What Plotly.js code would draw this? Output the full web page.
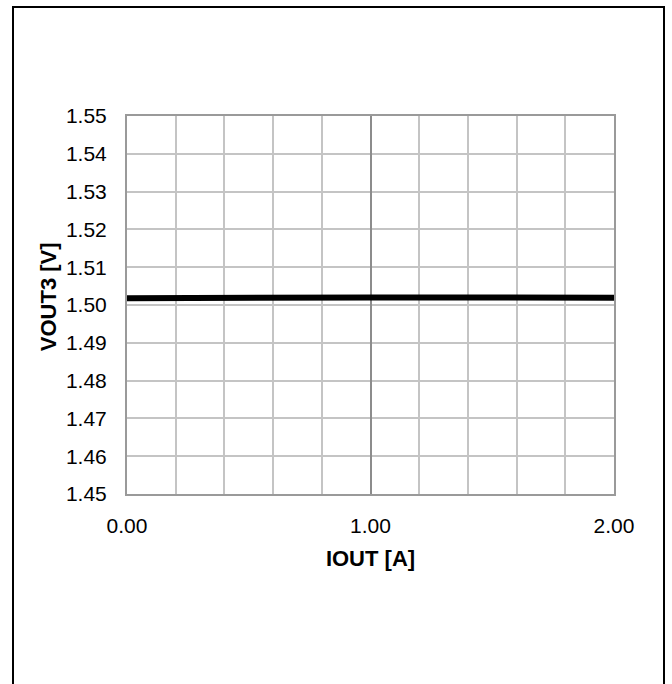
<!DOCTYPE html>
<html>
<head>
<meta charset="utf-8">
<script src="https://cdn.plot.ly/plotly-3.0.1.min.js"></script>
<style>
  html, body { margin: 0; padding: 0; background: #fff; }
  #wrap { position: relative; width: 672px; height: 684px; overflow: hidden; }
  #chart { position: absolute; left: 0; top: 0; width: 672px; height: 684px; }
  #frame { position: absolute; left: 12px; top: 6px; width: 653px; height: 700px;
           border: 2.5px solid #000; pointer-events: none; box-sizing: border-box; }
</style>
</head>
<body>
<div id="wrap"><div id="chart"></div><div id="frame"></div></div>
<script>
const iout = [0.0, 0.2, 0.4, 0.6, 0.8, 1.0, 1.2, 1.4, 1.6, 1.8, 2.0];
const vout3 = [1.5018, 1.5019, 1.5019, 1.5020, 1.5020, 1.5020, 1.5020, 1.5020, 1.5020, 1.5019, 1.5019];
const xTickVals = [0, 0.2, 0.4, 0.6, 0.8, 1.0, 1.2, 1.4, 1.6, 1.8, 2.0];
const xTickText = ['0.00', '', '', '', '', '1.00', '', '', '', '', '2.00'];
const yTickVals = [1.45, 1.46, 1.47, 1.48, 1.49, 1.50, 1.51, 1.52, 1.53, 1.54, 1.55];
const yTickText = ['1.45', '1.46', '1.47', '1.48', '1.49', '1.50', '1.51', '1.52', '1.53', '1.54', '1.55'];
const xTitle = 'IOUT [A]';
const yTitle = 'VOUT3 [V]';

const font = 'Liberation Sans, Arial, sans-serif';

const traces = [{
  x: iout, y: vout3, type: 'scatter', mode: 'lines',
  line: { color: '#000', width: 6 }, hoverinfo: 'skip'
}, {
  x: [0, 2], y: [1.45, 1.45], xaxis: 'x2', type: 'scatter', mode: 'lines',
  line: { width: 0 }, showlegend: false, hoverinfo: 'skip'
}];

const layout = {
  width: 672, height: 684,
  margin: { l: 127, r: 58, t: 116, b: 190 },
  paper_bgcolor: '#fff', plot_bgcolor: '#fff',
  showlegend: false,
  font: { family: font, color: '#000', size: 21 },
  xaxis: {
    range: [0, 2], tickmode: 'array', tickvals: xTickVals, ticktext: xTickText,
    showgrid: true, gridcolor: '#c4c4c4', gridwidth: 2,
    showline: true, linecolor: '#9a9a9a', linewidth: 2, mirror: true,
    zeroline: false, ticks: '', ticklabelstandoff: 12,
    tickfont: { size: 21 },
    title: { text: '<b>' + xTitle + '</b>', font: { size: 22 }, standoff: 14 }
  },
  xaxis2: {
    overlaying: 'x', range: [0, 2], tickvals: [1], showticklabels: false,
    showgrid: true, gridcolor: '#8c8c8c', gridwidth: 2, zeroline: false, showline: false, ticks: ''
  },
  yaxis: {
    range: [1.45, 1.55], tickmode: 'array', tickvals: yTickVals, ticktext: yTickText,
    showgrid: true, gridcolor: '#c4c4c4', gridwidth: 2,
    showline: true, linecolor: '#9a9a9a', linewidth: 2, mirror: true,
    zeroline: false, ticks: '', ticklabelstandoff: 14,
    tickfont: { size: 21 }
  },
  annotations: [{
    text: '<b>' + yTitle + '</b>', xref: 'paper', yref: 'paper',
    x: -0.162, y: 0.521, xanchor: 'center', yanchor: 'middle',
    textangle: -90, showarrow: false, font: { size: 22 }
  }]
};

Plotly.newPlot('chart', traces, layout, { displayModeBar: false, staticPlot: true });
</script>
</body>
</html>
